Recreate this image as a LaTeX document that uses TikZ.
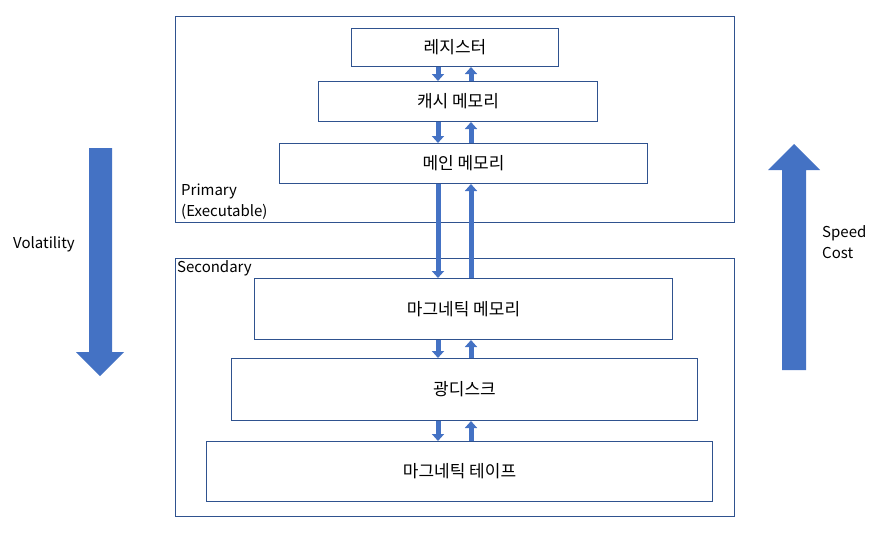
\documentclass[tikz,border=0pt]{standalone}
\usepackage{fontspec}
\setmainfont{Noto Sans CJK KR}
\usetikzlibrary{arrows.meta}
\definecolor{arrowblue}{HTML}{4472C4}
\definecolor{boxline}{HTML}{2F528F}
\tikzset{
  layerBox/.style={draw=boxline, line width=1pt},
  memBox/.style={draw=boxline, line width=1pt, fill=white, anchor=north west, inner sep=0pt, font=\fontsize{17}{20}\selectfont},
  flowArrow/.style={draw=arrowblue, line width=5pt, -{Triangle[width=12pt,length=7pt]}},
  sideLabel/.style={anchor=north west, align=left, inner sep=0pt, font=\fontsize{15}{21}\selectfont}
}
\begin{document}
\begin{tikzpicture}[x=1pt,y=-1pt]
\useasboundingbox (0,0) rectangle (894,533);
% draw the two layers
\draw[layerBox] (175,16) rectangle (734,222);
\draw[layerBox] (175,258) rectangle (734,516);
\node[sideLabel] (primary) at (181,184) {Primary\\(Executable)};
\node[sideLabel] (secondary) at (177,260) {Secondary};
% draw the memory boxes
\node[memBox, minimum width=207pt, minimum height=38pt] (reg) at (351,28) {레지스터};
\node[memBox, minimum width=279pt, minimum height=40pt] (cache) at (318,81) {캐시 메모리};
\node[memBox, minimum width=368pt, minimum height=40pt] (main) at (279,143) {메인 메모리};
\node[memBox, minimum width=418pt, minimum height=61pt] (mag) at (254,278) {마그네틱 메모리};
\node[memBox, minimum width=466pt, minimum height=62pt] (optic) at (231,358) {광디스크};
\node[memBox, minimum width=506pt, minimum height=60pt] (tape) at (206,441) {마그네틱 테이프};
% draw the transfer arrows
\coordinate (dn) at (438,0);
\coordinate (up) at (471,0);
\foreach \hi/\lo in {reg/cache, cache/main, main/mag, mag/optic, optic/tape}{
  \draw[flowArrow] (\hi.south -| dn) -- (\lo.north -| dn);
  \draw[flowArrow] (\lo.north -| up) -- (\hi.south -| up);
}
% draw the big side arrows
\fill[arrowblue] (89,148) -- (112,148) -- (112,352) -- (124,352) -- (100,376) -- (76,352) -- (89,352) -- cycle;
\node[font=\fontsize{15}{18}\selectfont] (vol) at (44,244) {Volatility};
\fill[arrowblue] (782,370) -- (806,370) -- (806,170) -- (820,170) -- (794,144) -- (768,170) -- (782,170) -- cycle;
\node[sideLabel] (speed) at (822,225) {Speed\\Cost};
\end{tikzpicture}
\end{document}
